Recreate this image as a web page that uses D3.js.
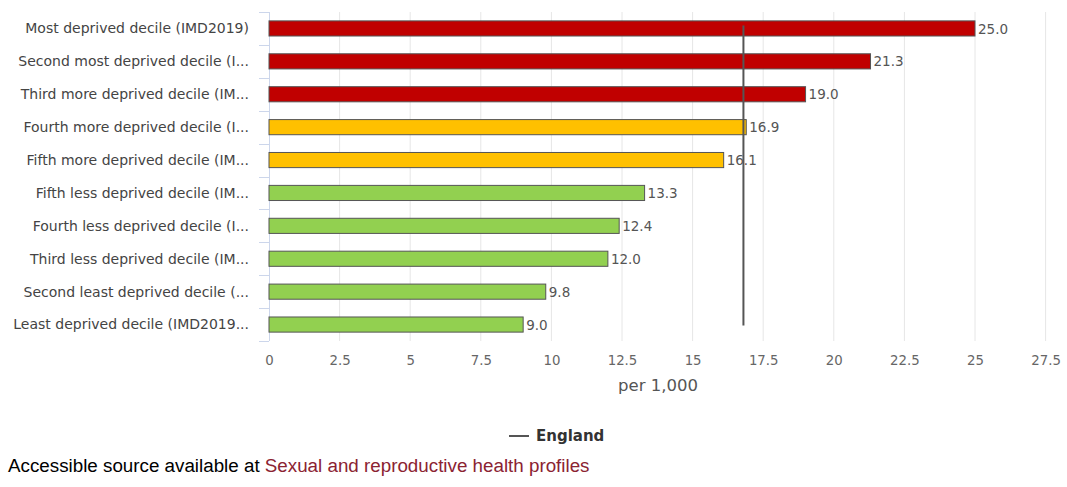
<!DOCTYPE html>
<html>
<head>
<meta charset="utf-8">
<script src="https://cdn.jsdelivr.net/npm/d3@7"></script>
<style>
  body { margin: 0; background: #fff; }
  .foot { position: absolute; left: 8px; top: 455px; font-family: "Liberation Sans", Arial, sans-serif; font-size: 18.8px; color: #000; }
  .foot a { color: #8b2332; text-decoration: none; }
</style>
</head>
<body>
<div id="chart"></div>
<div class="foot">Accessible source available at <a href="#">Sexual and reproductive health profiles</a></div>
<script>
// data
var categories = [
  "Most deprived decile (IMD2019)",
  "Second most deprived decile (I...",
  "Third more deprived decile (IM...",
  "Fourth more deprived decile (I...",
  "Fifth more deprived decile (IM...",
  "Fifth less deprived decile (IM...",
  "Fourth less deprived decile (I...",
  "Third less deprived decile (IM...",
  "Second least deprived decile (...",
  "Least deprived decile (IMD2019..."
];
var values = [25.0, 21.3, 19.0, 16.9, 16.1, 13.3, 12.4, 12.0, 9.8, 9.0];
var significance = ["worse", "worse", "worse", "similar", "similar", "better", "better", "better", "better", "better"];
var englandValue = 16.8;
var xTicks = [0, 2.5, 5, 7.5, 10, 12.5, 15, 17.5, 20, 22.5, 25, 27.5];

var colors = { worse: "#c00000", similar: "#ffc000", better: "#92d050" };

var width = 1067, height = 487;
var margin = { left: 269, right: 20, top: 12 };
var plotBottom = 341;

var svg = d3.select("#chart").append("svg")
    .attr("width", width)
    .attr("height", height)
    .style("font-family", "'DejaVu Sans', Verdana, sans-serif");

var x = d3.scaleLinear().domain([0, 27.5]).range([margin.left, 1045.6]);
var y = d3.scaleBand().domain(categories).range([margin.top, plotBottom]).paddingInner(0.54).paddingOuter(0.27);

// grid lines
svg.append("g").selectAll("line")
    .data(xTicks.slice(1))
    .enter().append("line")
    .attr("x1", function(d) { return x(d); })
    .attr("x2", function(d) { return x(d); })
    .attr("y1", margin.top)
    .attr("y2", plotBottom)
    .attr("stroke", "#e6e6e6")
    .attr("stroke-width", 1);

// x axis labels
var xAxis = d3.axisBottom(x).tickValues(xTicks).tickSize(0).tickPadding(15)
    .tickFormat(function(d) { return d3.format("")(d); });
var gx = svg.append("g").attr("transform", "translate(0," + plotBottom + ")").call(xAxis);
gx.select(".domain").remove();
gx.selectAll("text").attr("fill", "#666").style("font-size", "13.3px").style("font-family", "'DejaVu Sans', Verdana, sans-serif");

// y axis bracket
var bandStep = (plotBottom - margin.top) / categories.length;
var bounds = d3.range(categories.length + 1).map(function(i) { return margin.top + i * bandStep; });
svg.append("line")
    .attr("x1", margin.left + 0.5).attr("x2", margin.left + 0.5)
    .attr("y1", margin.top).attr("y2", plotBottom)
    .attr("stroke", "#ccd6eb");
svg.append("g").selectAll("line")
    .data(bounds)
    .enter().append("line")
    .attr("x1", margin.left - 10).attr("x2", margin.left)
    .attr("y1", function(d) { return Math.round(d) + 0.5; })
    .attr("y2", function(d) { return Math.round(d) + 0.5; })
    .attr("stroke", "#ccd6eb");

// category labels
svg.append("g").selectAll("text")
    .data(categories)
    .enter().append("text")
    .attr("x", margin.left - 20)
    .attr("y", function(d) { return y(d) + y.bandwidth() / 2; })
    .attr("dy", "0.35em")
    .attr("text-anchor", "end")
    .attr("fill", "#444")
    .style("font-size", "14px")
    .text(function(d) { return d; });

// bars
svg.append("g").selectAll("rect")
    .data(values)
    .enter().append("rect")
    .attr("x", x(0))
    .attr("y", function(d, i) { return y(categories[i]); })
    .attr("width", function(d) { return x(d) - x(0); })
    .attr("height", y.bandwidth())
    .attr("fill", function(d, i) { return colors[significance[i]]; })
    .attr("stroke", "#555")
    .attr("stroke-width", 1);

// value labels
svg.append("g").selectAll("text")
    .data(values)
    .enter().append("text")
    .attr("x", function(d) { return x(d) + 3; })
    .attr("y", function(d, i) { return y(categories[i]) + y.bandwidth() / 2; })
    .attr("dy", "0.38em")
    .attr("fill", "#555")
    .style("font-size", "13.5px")
    .text(function(d) { return d3.format(".1f")(d); });

// England line
svg.append("line")
    .attr("x1", x(englandValue)).attr("x2", x(englandValue))
    .attr("y1", y(categories[0]) + y.bandwidth() / 2 - 3)
    .attr("y2", y(categories[categories.length - 1]) + y.bandwidth() / 2 + 1)
    .attr("stroke", "#555")
    .attr("stroke-width", 2);

// axis title
svg.append("text")
    .attr("x", (margin.left + 1047) / 2)
    .attr("y", 391)
    .attr("text-anchor", "middle")
    .attr("fill", "#555")
    .style("font-size", "16.5px")
    .text("per 1,000");

// legend
var legend = svg.append("g").attr("transform", "translate(509,436)");
legend.append("line").attr("x1", 0).attr("x2", 20).attr("y1", 0).attr("y2", 0)
    .attr("stroke", "#555").attr("stroke-width", 2);
legend.append("text").attr("x", 27).attr("y", 0).attr("dy", "0.35em")
    .attr("fill", "#333").style("font-size", "15px").style("font-weight", "bold")
    .text("England");
</script>
</body>
</html>
